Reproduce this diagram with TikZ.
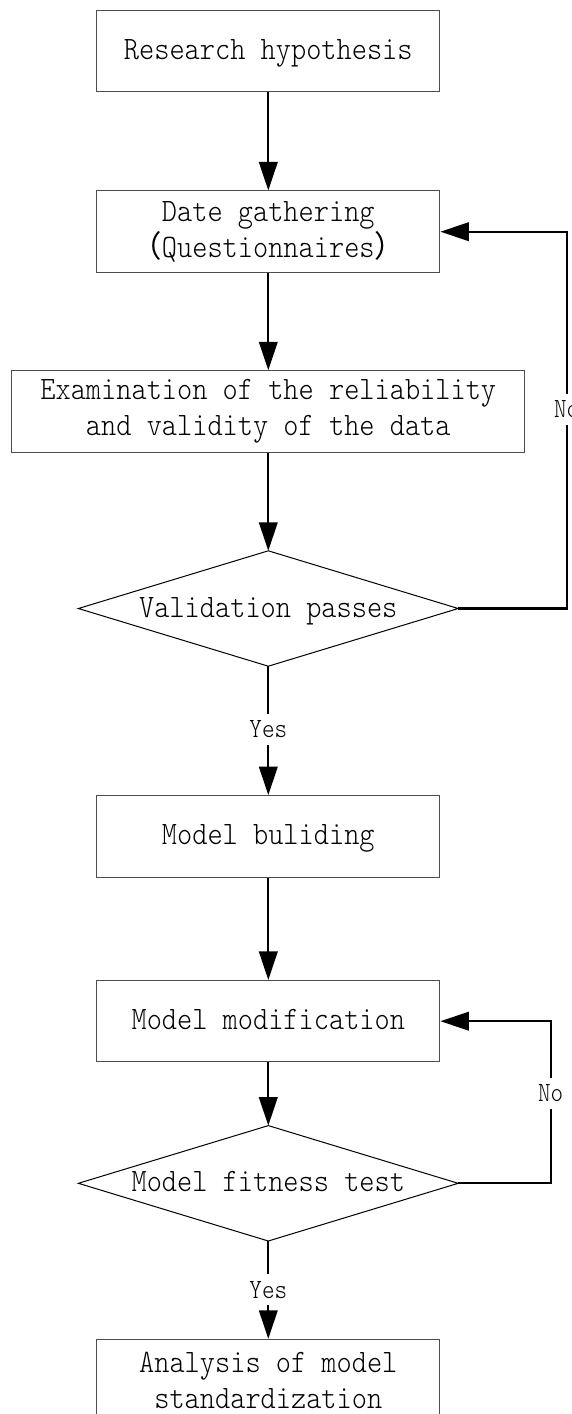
\documentclass[tikz,border=0pt]{standalone}
\usepackage{fontspec}
\usetikzlibrary{arrows.meta}
\newfontfamily\mainmono[FakeStretch=0.885]{lmmonolt10-regular.otf}
\newfontfamily\labmono[FakeStretch=0.86]{lmmonolt10-regular.otf}
\newfontfamily\cjkfont{Noto Sans CJK SC}
\newcommand\fw[1]{{\cjkfont\fontsize{30.4pt}{36pt}\selectfont #1}}
\tikzset{
  box/.style={draw=black!70, line width=1pt, minimum width=343.2pt, minimum height=81.5pt,
    inner sep=0pt, align=center, font={\mainmono\fontsize{32.7pt}{36pt}\selectfont}},
  single/.style={text height=25pt, text depth=8pt},
  widebox/.style={box, minimum width=513.2pt},
  decision/.style={minimum width=379.4pt, minimum height=115pt, inner sep=0pt,
    font={\mainmono\fontsize{32.7pt}{36pt}\selectfont}},
  diamondline/.style={draw=black, line width=1pt, line join=miter},
  flow/.style={line width=2.3pt, -{Triangle[length=28.5pt,width=18.5pt]}},
  lab/.style={fill=white, inner sep=7pt, font={\labmono\fontsize{27.8pt}{30pt}\selectfont}},
}
\begin{document}
\begin{tikzpicture}[x=1pt, y=-1pt]
  \fill[white] (0,0) rectangle (571,1414);
  \useasboundingbox (0,0) rectangle (571,1414);

  \node[box, single] (b1) at (268.3,51.2) {Research hypothesis};
  \node[box] (b2) at (268.3,231.7) {Date gathering\\\fw{（}Questionnaires\fw{）}};
  \node[widebox] (b3) at (268.3,411.5) {Examination of the reliability\\and validity of the data};
  \node[decision, single] (d1) at (268.3,608.5) {Validation passes};
  \draw[diamondline] (d1.north) -- (d1.east) -- (d1.south) -- (d1.west) -- cycle;
  \node[box, single] (b4) at (268.3,836.3) {Model buliding};
  \node[box, single] (b5) at (268.3,1021.2) {Model modification};
  \node[decision, single] (d2) at (268.3,1183.3) {Model fitness test};
  \draw[diamondline] (d2.north) -- (d2.east) -- (d2.south) -- (d2.west) -- cycle;
  \node[box] (b6) at (268.3,1380) {Analysis of model\\standardization};

  \coordinate (r1) at (566.7,0);
  \coordinate (r2) at (550.7,0);

  \draw[flow] (b1.south) -- (b2.north);
  \draw[flow] (b2.south) -- (b3.north);
  \draw[flow] (b3.south) -- (d1.north);
  \draw[flow] (d1.south) -- node[lab, pos=0.49] (y1) {Yes} (b4.north);
  \draw[flow] (b4.south) -- (b5.north);
  \draw[flow] (b5.south) -- (d2.north);
  \draw[flow] (d2.south) -- node[lab, pos=0.5] (y2) {Yes} (b6.north);
  \draw[flow] (d1.east) -- (d1.east -| r1) |- node[lab, pos=0.264] (n1) {No} (b2.east);
  \draw[flow] (d2.east) -- (d2.east -| r2) |- node[lab, pos=0.277] (n2) {No} (b5.east);
\end{tikzpicture}
\end{document}
